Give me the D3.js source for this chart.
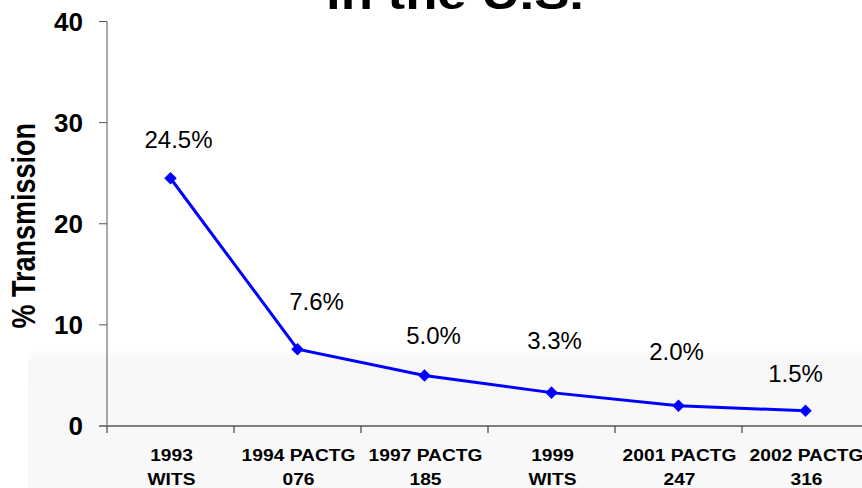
<!DOCTYPE html>
<html>
<head>
<meta charset="utf-8">
<script src="https://cdn.jsdelivr.net/npm/d3@7"></script>
<style>
  html, body { margin: 0; padding: 0; background: #fff; }
  svg { display: block; font-family: "Liberation Sans", Arial, sans-serif; }
</style>
</head>
<body>
<svg id="chart" width="862" height="488"></svg>
<script>
// chart data
const studyYears = ['1993', '1994 PACTG', '1997 PACTG', '1999', '2001 PACTG', '2002 PACTG'];
const studyNames = ['WITS', '076', '185', 'WITS', '247', '316'];
const transmission = [24.5, 7.6, 5.0, 3.3, 2.0, 1.5];
const pointLabels = ['24.5%', '7.6%', '5.0%', '3.3%', '2.0%', '1.5%'];
const yTicks = [0, 10, 20, 30, 40];

// hand-placed label nudges (the original slide has them dragged around)
const labelNudge = [[8, -30], [19, -39], [9, -31], [3, -44], [-2, -46], [-10, -29]];

const svg = d3.select('#chart');
const width = +svg.attr('width');

const x = d3.scaleBand()
  .domain(studyYears)
  .range([107, 869])
  .padding(0);

const y = d3.scaleLinear()
  .domain([0, 40])
  .range([426, 21.5]);

// faint photo watermark behind the lower part of the slide
const defs = svg.append('defs');
const grad = defs.append('linearGradient')
  .attr('id', 'fade')
  .attr('x1', 0).attr('y1', 0).attr('x2', 0).attr('y2', 1);
grad.append('stop').attr('offset', '0%').attr('stop-color', '#f7f7f7').attr('stop-opacity', 0);
grad.append('stop').attr('offset', '10%').attr('stop-color', '#f7f7f7').attr('stop-opacity', 1);
grad.append('stop').attr('offset', '100%').attr('stop-color', '#f9f9f9').attr('stop-opacity', 1);
svg.append('rect')
  .attr('x', 28).attr('y', 348)
  .attr('width', width - 28).attr('height', 140)
  .attr('fill', 'url(#fade)');

// title (only the last line is on the slide)
svg.append('text')
  .attr('transform', 'translate(455,9) scale(1.2,1)')
  .attr('text-anchor', 'middle')
  .style('font-size', '44px')
  .style('font-weight', 'bold')
  .text('in the U.S.');

// y axis
const yAxis = svg.append('g').attr('transform', 'translate(107,0)');
yAxis.append('line')
  .attr('y1', y(40)).attr('y2', y(0))
  .attr('stroke', '#555').attr('stroke-width', 1);
yAxis.selectAll('line.tick')
  .data(yTicks)
  .join('line')
  .attr('class', 'tick')
  .attr('x1', -8).attr('x2', 0)
  .attr('y1', d => y(d)).attr('y2', d => y(d))
  .attr('stroke', '#555');
svg.selectAll('text.ytick')
  .data(yTicks)
  .join('text')
  .attr('class', 'ytick')
  .attr('x', 83)
  .attr('y', d => y(d) + 9)
  .attr('text-anchor', 'end')
  .style('font-size', '26px')
  .style('font-weight', 'bold')
  .text(d => d);

svg.append('text')
  .attr('transform', `translate(35,${(y(40) + y(0)) / 2 + 2}) scale(1.2,1) rotate(-90)`)
  .attr('text-anchor', 'middle')
  .style('font-size', '27px')
  .style('font-weight', 'bold')
  .text('% Transmission');

// x axis
const xAxis = svg.append('g').attr('transform', `translate(0,${y(0)})`);
xAxis.append('line')
  .attr('x1', 99).attr('x2', width)
  .attr('stroke', '#7f7f7f').attr('stroke-width', 2);
xAxis.selectAll('line.tick')
  .data(studyYears)
  .join('line')
  .attr('class', 'tick')
  .attr('x1', d => x(d)).attr('x2', d => x(d))
  .attr('y1', 0).attr('y2', 7)
  .attr('stroke', '#222');

const xLabels = svg.selectAll('g.xlabel')
  .data(studyYears)
  .join('g')
  .attr('class', 'xlabel')
  .attr('transform', d => `translate(${x(d) + x.bandwidth() / 2 + 1},0)`);
xLabels.append('text')
  .attr('transform', 'translate(0,461) scale(1.13,1)')
  .attr('text-anchor', 'middle')
  .style('font-size', '17px')
  .style('font-weight', 'bold')
  .text(d => d);
xLabels.append('text')
  .attr('transform', 'translate(0,485) scale(1.13,1)')
  .attr('text-anchor', 'middle')
  .style('font-size', '17px')
  .style('font-weight', 'bold')
  .text((d, i) => studyNames[i]);

// series
const points = studyYears.map((s, i) => ({ s, v: transmission[i], i }));
const cx = d => x(d.s) + x.bandwidth() / 2;

svg.append('path')
  .datum(points)
  .attr('fill', 'none')
  .attr('stroke', '#0000ff')
  .attr('stroke-width', 3)
  .attr('d', d3.line().x(cx).y(d => y(d.v)));

svg.selectAll('path.marker')
  .data(points)
  .join('path')
  .attr('class', 'marker')
  .attr('transform', d => `translate(${cx(d)},${y(d.v)})`)
  .attr('d', d3.symbol(d3.symbolDiamond2, 100))
  .attr('fill', '#0000ff');

svg.selectAll('text.plabel')
  .data(points)
  .join('text')
  .attr('class', 'plabel')
  .attr('x', d => cx(d) + labelNudge[d.i][0])
  .attr('y', d => y(d.v) + labelNudge[d.i][1])
  .attr('text-anchor', 'middle')
  .style('font-size', '24px')
  .text(d => pointLabels[d.i]);
</script>
</body>
</html>
